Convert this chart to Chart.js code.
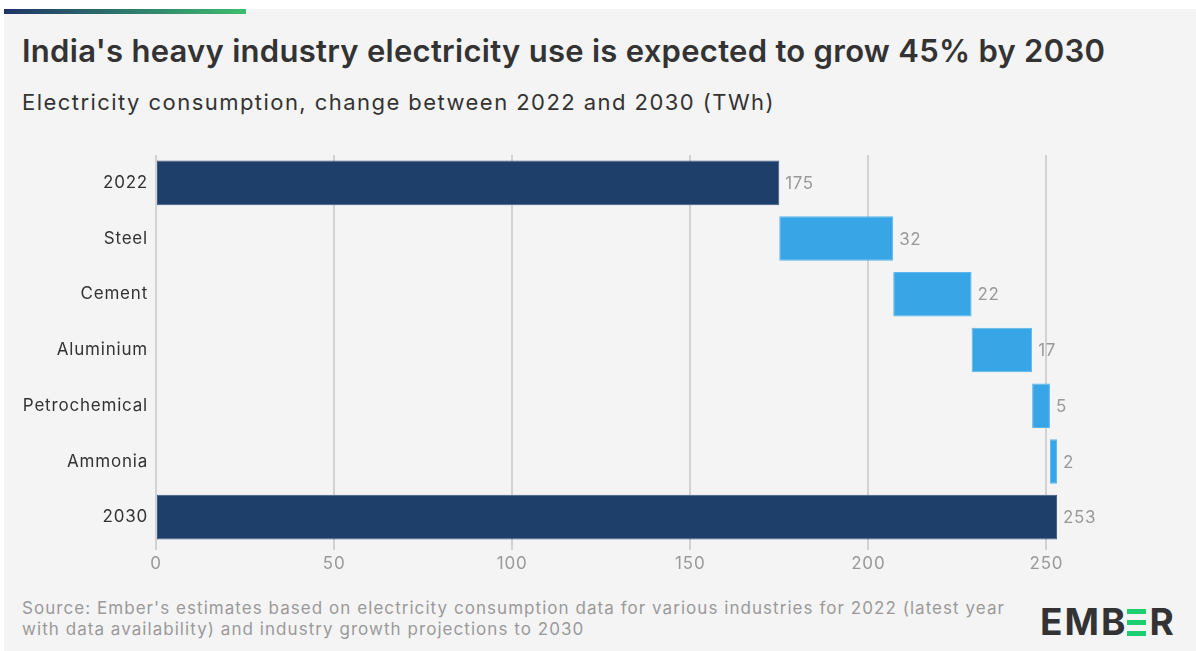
<!DOCTYPE html>
<html>
<head>
<meta charset="utf-8">
<script src="https://cdn.jsdelivr.net/npm/chart.js@4.4.1/dist/chart.umd.min.js"></script>
<style>
  html, body { margin: 0; padding: 0; background: #ffffff; }
  body { width: 1196px; height: 651px; position: relative; overflow: hidden; font-family: Inter, "Noto Sans", sans-serif; }
  .panel { position: absolute; left: 4px; top: 9px; width: 1192px; height: 642px; background: #f4f4f4; }
  .topbar { position: absolute; left: 4px; top: 9px; width: 242px; height: 5px; background: linear-gradient(90deg, #1f3467, #3dbd6f); }
  .title { position: absolute; left: 22px; top: 32px; font-size: 31px; font-weight: 600; color: #333333; white-space: nowrap; letter-spacing: 0.28px; }
  .subtitle { position: absolute; left: 22px; top: 89px; font-size: 22px; color: #333333; white-space: nowrap; letter-spacing: 1.45px; }
  .chartbox { position: absolute; left: 0; top: 140px; width: 1196px; height: 440px; }
  .source { position: absolute; left: 22px; top: 598px; font-size: 17px; line-height: 21px; color: #9a9a9a; letter-spacing: 1.05px; white-space: nowrap; }
  .logo { position: absolute; left: 1040px; top: 600px; font-size: 37px; font-weight: 700; color: #333333; letter-spacing: 2px; line-height: 44px; white-space: nowrap; }
  .logo .e3 { display: inline-block; width: 19px; height: 27px; margin-right: 3px; position: relative; vertical-align: -1px; }
  .logo .e3 i { position: absolute; left: 0; width: 19px; height: 5px; background: #1ecf72; }
</style>
</head>
<body>
<div class="panel"></div>
<div class="topbar"></div>
<div class="title">India's heavy industry electricity use is expected to grow 45% by 2030</div>
<div class="subtitle">Electricity consumption, change between 2022 and 2030 (TWh)</div>
<div class="chartbox"><canvas id="waterfall"></canvas></div>
<div class="source">Source: Ember's estimates based on electricity consumption data for various industries for 2022 (latest year<br>with data availability) and industry growth projections to 2030</div>
<div class="logo">EMB<span class="e3"><i style="top:0"></i><i style="top:11px"></i><i style="top:22px"></i></span>R</div>

<script>
    // 카테고리와 값 (TWh)
    const categories = ['2022', 'Steel', 'Cement', 'Aluminium', 'Petrochemical', 'Ammonia', '2030'];
    const values = [175, 32, 22, 17, 5, 2, 253];
    const isTotal = [true, false, false, false, false, false, true];
    const xTicks = [0, 50, 100, 150, 200, 250];

    const totalColor = '#1f3f6b';
    const stepColor = '#38a6e6';

    // 워터폴 구간: 합계는 0부터, 증가분은 누적값부터
    let running = 0;
    const ranges = values.map((v, i) => {
        if (isTotal[i]) {
            running = v;
            return [0, v];
        }
        const start = running;
        running += v;
        return [start, running];
    });

    // 캔버스 글자 간격
    const spacing = {
        id: 'spacing',
        beforeLayout(chart) { chart.ctx.letterSpacing = '0.8px'; },
        beforeDraw(chart) { chart.ctx.letterSpacing = '0.8px'; }
    };

    // 막대 끝에 값 표시
    const valueLabels = {
        id: 'valueLabels',
        afterDatasetsDraw(chart) {
            const ctx = chart.ctx;
            const meta = chart.getDatasetMeta(0);
            ctx.save();
            ctx.letterSpacing = '0.6px';
            ctx.font = '17px Inter, "Noto Sans", sans-serif';
            ctx.fillStyle = '#999999';
            ctx.textAlign = 'left';
            ctx.textBaseline = 'middle';
            meta.data.forEach((bar, i) => {
                ctx.fillText(String(values[i]), bar.x + 6, bar.y + 1);
            });
            ctx.restore();
        }
    };

    new Chart(document.getElementById('waterfall'), {
        type: 'bar',
        data: {
            labels: categories,
            datasets: [{
                data: ranges,
                backgroundColor: isTotal.map(t => t ? totalColor : stepColor),
                borderColor: isTotal.map(t => t ? '#3d5a82' : '#5ab6ec'),
                borderWidth: 1,
                borderSkipped: false,
                barPercentage: 0.8,
                categoryPercentage: 1
            }]
        },
        options: {
            indexAxis: 'y',
            responsive: true,
            maintainAspectRatio: false,
            animation: false,
            layout: { padding: { top: 15, right: 114, bottom: 0, left: 0 } },
            plugins: {
                legend: { display: false },
                tooltip: { enabled: false }
            },
            scales: {
                x: {
                    min: 0,
                    max: 260,
                    afterBuildTicks: (scale) => {
                        scale.ticks = xTicks.map(v => ({ value: v }));
                    },
                    afterFit: (scale) => { scale.height = 35; },
                    grid: {
                        color: '#d2d2d2',
                        lineWidth: 2,
                        tickLength: 5,
                        drawTicks: true
                    },
                    border: { display: false },
                    ticks: {
                        padding: 4,
                        color: '#999999',
                        font: { family: 'Inter', size: 17 }
                    }
                },
                y: {
                    afterFit: (scale) => { scale.width = 156; },
                    grid: { display: false },
                    border: { display: false },
                    ticks: {
                        padding: 0,
                        color: '#333333',
                        font: { family: 'Inter', size: 17 }
                    }
                }
            }
        },
        plugins: [spacing, valueLabels]
    });
</script>
</body>
</html>
